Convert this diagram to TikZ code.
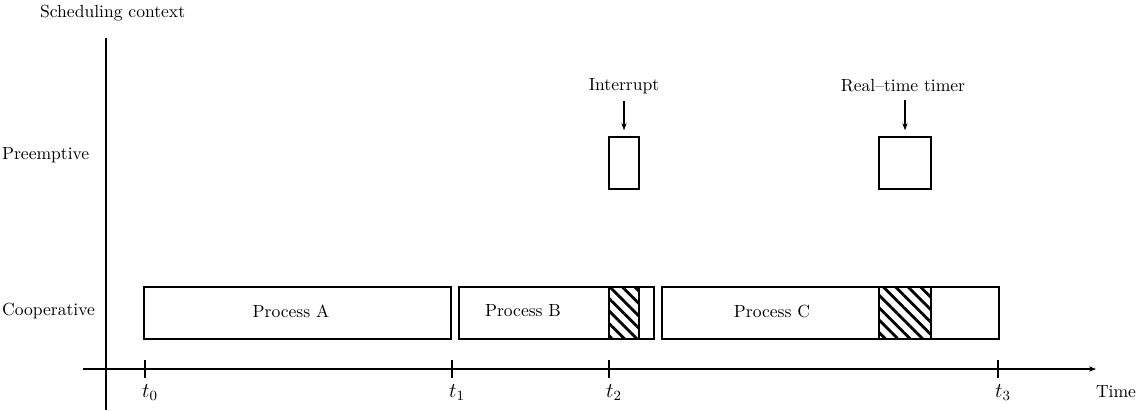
\documentclass[tikz,border=0pt]{standalone}
\usetikzlibrary{positioning,arrows.meta,patterns.meta}
\begin{document}
\begin{tikzpicture}[x=0.02cm, y=-0.02cm,
    proc/.style={draw, line width=0.7pt, minimum height=1.04cm, inner sep=0pt},
    hatch/.style={proc, pattern={Lines[angle=-45, distance=5pt, line width=1.6pt]}},
    lbl/.style={font=\normalsize, inner sep=1pt},
    arrow/.style={-{Stealth[length=4pt, width=3pt]}, line width=0.6pt},
    tick/.style={line width=0.6pt}
  ]
    \useasboundingbox (0,0) rectangle (1136,410);
    % axes
    \coordinate (ytop) at (106,38);
    \coordinate (ybot) at (106,410);
    \coordinate (xleft) at (83,369);
    \coordinate (xright) at (1096,369);
    \draw[tick] (ybot) -- (ytop);
    \draw[arrow] (xleft) -- (xright);
    \node[lbl, anchor=west] (ctx) at (38,13) {Scheduling context};
    \node[lbl, anchor=west] (pre) at (0,155) {Preemptive};
    \node[lbl, anchor=west] (coop) at (0,311) {Cooperative};
    \node[lbl] (time) at (1116,392) {Time};
    % cooperative row
    \node[proc, minimum width=6.14cm] (pa) at (297.5,313) {};
    \node[proc, minimum width=3.90cm] (pb) at (556.5,313) {};
    \node[hatch, minimum width=0.60cm] (hb) at (624,313) {};
    \node[proc, minimum width=6.74cm] (pc) at (830.5,313) {};
    \node[hatch, minimum width=1.04cm] (hc) at (905,313) {};
    \node[lbl] (la) at (291,311) {Process A};
    \node[lbl] (lb) at (523,311) {Process B};
    \node[lbl] (lc) at (772,311) {Process C};
    % preemptive row
    \node[proc, minimum width=0.60cm] (ib) at (624,163) {};
    \node[proc, minimum width=1.04cm] (tb) at (905,163) {};
    \node[lbl] (intr) at (624,86) {Interrupt};
    \node[lbl] (rtt) at (903,86) {Real--time timer};
    \draw[arrow, shorten <=3pt, shorten >=3.5pt] (intr.south) -- (ib.north);
    \draw[arrow, shorten <=3pt, shorten >=3.5pt] (rtt.south -| tb.north) -- (tb.north);
    % ticks
    \foreach \x/\i in {145/0, 452/1, 609/2, 998/3} {
      \draw[tick] (\x,360) -- (\x,378);
      \node[lbl, font=\large, anchor=north] (t\i) at (\x+5,382) {$t_{\i}$};
    }
  \end{tikzpicture}
\end{document}
